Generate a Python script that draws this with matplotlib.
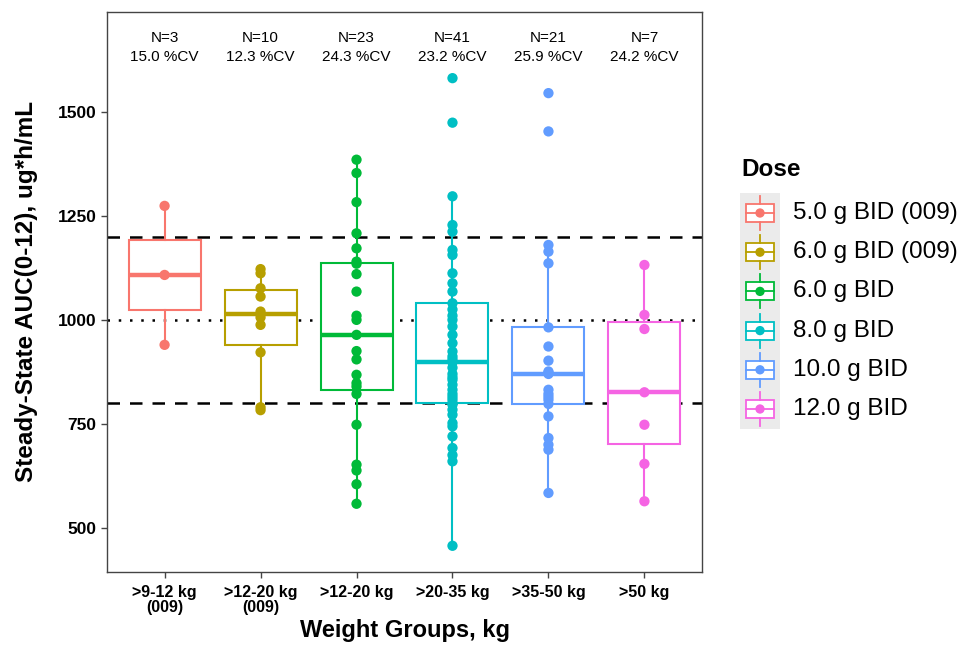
import matplotlib
matplotlib.use("Agg")
import matplotlib.pyplot as plt
import numpy as np

plt.rcParams['font.family'] = ['Liberation Sans', 'DejaVu Sans']

categories = [">9-12 kg\n(009)", ">12-20 kg\n(009)", ">12-20 kg", ">20-35 kg", ">35-50 kg", ">50 kg"]
doses = ["5.0 g BID (009)", "6.0 g BID (009)", "6.0 g BID", "8.0 g BID", "10.0 g BID", "12.0 g BID"]
colors = ["#F8766D", "#B79F00", "#00BA38", "#00BFC4", "#619CFF", "#F564E3"]
n_labels = ["N=3", "N=10", "N=23", "N=41", "N=21", "N=7"]
cv_labels = ["15.0 %CV", "12.3 %CV", "24.3 %CV", "23.2 %CV", "25.9 %CV", "24.2 %CV"]

g1 = [940, 1108, 1274]
g2 = [783, 790, 922, 988, 1006, 1020, 1056, 1076, 1112, 1122]
g3 = [558, 605, 638, 652, 748, 822, 840, 848, 868, 905, 925, 964, 1000, 1010,
      1068, 1110, 1135, 1140, 1172, 1208, 1283, 1353, 1385]
g4 = [457, 660, 675, 692, 720, 744, 752, 772, 784, 796, 800,
      808, 815, 822, 832, 844, 856, 862, 870, 885, 898,
      905, 912, 924, 944, 964, 984, 1000, 1010, 1025, 1040,
      1068, 1088, 1112, 1156, 1168, 1212, 1228, 1297, 1474, 1581]
g5 = [584, 688, 700, 716, 768, 798, 808, 815, 822, 832, 870, 873, 876, 902, 936,
      982, 1136, 1164, 1180, 1453, 1545]
g6 = [564, 654, 748, 826, 978, 1012, 1132]
groups = [g1, g2, g3, g4, g5, g6]

ref_lines_dashed = [800, 1200]
ref_line_dotted = 1000
yticks = [500, 750, 1000, 1250, 1500]

W, H = 961, 645
fig = plt.figure(figsize=(W / 100, H / 100), dpi=100)
ax = fig.add_axes([107 / W, 1 - 572 / H, (702 - 107) / W, (572 - 12) / H])

positions = np.arange(1, len(groups) + 1)
for i, (g, c) in enumerate(zip(groups, colors)):
    ax.boxplot([g], positions=[positions[i]], widths=0.75, whis=1.5,
               patch_artist=True, showfliers=False,
               boxprops=dict(facecolor='white', edgecolor=c, linewidth=1.5),
               whiskerprops=dict(color=c, linewidth=1.5),
               capprops=dict(linewidth=0),
               medianprops=dict(color=c, linewidth=3.2),
               zorder=2)
    ax.scatter(np.full(len(g), positions[i]), g, s=55, color=c, zorder=3,
               edgecolors='none')

for yv in ref_lines_dashed:
    ax.axhline(yv, color='black', linestyle=(0, (5, 4)), linewidth=1.8, zorder=1)
ax.axhline(ref_line_dotted, color='black', linestyle=(0, (1, 3.5)), linewidth=1.8, zorder=1)

for i in range(len(groups)):
    ax.text(positions[i], 1678, n_labels[i], ha='center', va='center', fontsize=11)
    ax.text(positions[i], 1632, cv_labels[i], ha='center', va='center', fontsize=11)

ax.set_xlim(0.4, 6.6)
ax.set_ylim(394, 1740)
ax.set_yticks(yticks)
ax.set_yticklabels([str(v) for v in yticks], fontsize=12.5, fontweight='bold')
ax.set_xticks(positions)
ax.set_xticklabels(categories, fontsize=11.5, fontweight='bold', linespacing=1.05)
for s in ax.spines.values():
    s.set_color('#444444')
    s.set_linewidth(1.0)
ax.tick_params(axis='both', colors='#444444', length=4, width=1.0, labelcolor='black')
ax.tick_params(axis='x', pad=5)
ax.set_ylabel("Steady-State AUC(0-12), ug*h/mL", fontsize=17.5, fontweight='bold', labelpad=14)
ax.set_xlabel("Weight Groups, kg", fontsize=17, fontweight='bold', labelpad=3)

# Legend drawn manually
lax = fig.add_axes([0, 0, 1, 1])
lax.set_xlim(0, W)
lax.set_ylim(H, 0)
lax.axis('off')
lax.text(741, 170, "Dose", fontsize=17.5, fontweight='bold', va='center', ha='left')
y0, dy = 213, 39.2
lax.add_patch(plt.Rectangle((740, y0 - 20), 40, dy * 6 + 1, facecolor='#EBEBEB',
                            edgecolor='none', zorder=0))
for i, (d, c) in enumerate(zip(doses, colors)):
    yc = y0 + dy * i
    lax.add_patch(plt.Rectangle((746, yc - 9), 28, 18, facecolor='white',
                                edgecolor=c, linewidth=1.3, zorder=2))
    lax.plot([760, 760], [yc - 17, yc - 9], color=c, lw=1.3, zorder=2)
    lax.plot([760, 760], [yc + 9, yc + 17], color=c, lw=1.3, zorder=2)
    lax.plot([746, 774], [yc, yc], color=c, lw=1.3, zorder=3)
    lax.scatter([760], [yc], s=45, color=c, zorder=4, edgecolors='none')
    lax.text(793, yc, d, fontsize=17.5, va='center', ha='left')

fig.savefig("out.png", dpi=100)
